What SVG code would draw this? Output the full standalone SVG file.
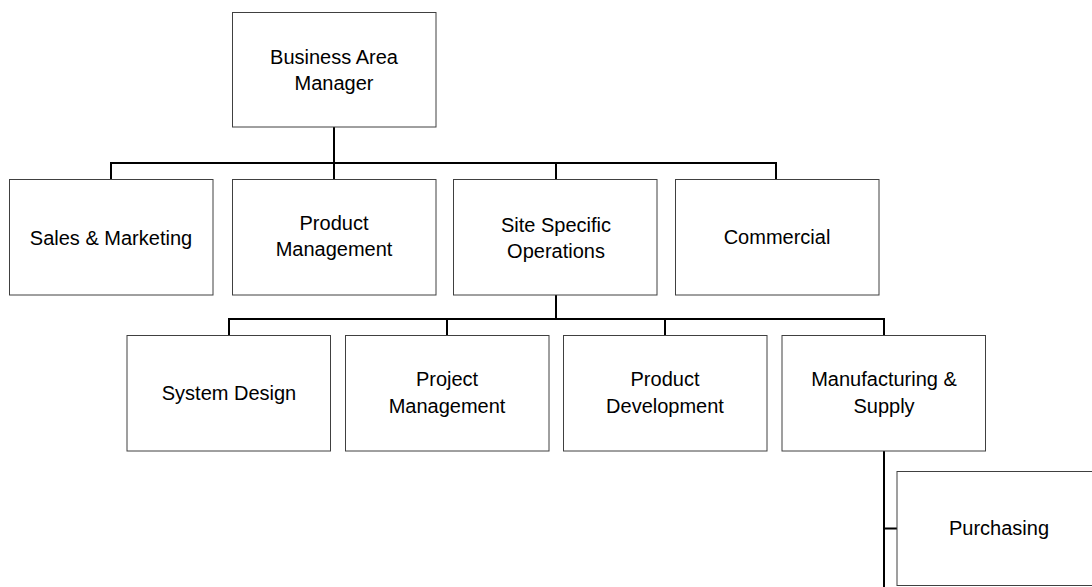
<svg xmlns="http://www.w3.org/2000/svg" width="1092" height="587" viewBox="0 0 1092 587">
<style>
.box{fill:#fff;stroke:#404040;stroke-width:1}
.lbl{font-family:"Liberation Sans",Arial,sans-serif;font-size:20px;fill:#000;text-anchor:middle}
.con{fill:none;stroke:#000;stroke-width:2}
</style>
<rect width="1092" height="587" fill="#fff"/>
<g id="connectors">
<path class="con" d="M334 127V179M111 179V163H776V179M556 163V179"/>
<path class="con" d="M556 295V319M229 335.5V319H884V335.5M447 319V335.5M665 319V335.5"/>
<path class="con" d="M884 451V587M884 528.5H897"/>
</g>
<g id="n-bam"><rect class="box" x="232.5" y="12.5" width="203.5" height="114.5"/><text class="lbl" x="334" y="64">Business Area</text><text class="lbl" x="334" y="89.5">Manager</text></g>
<g id="n-sales"><rect class="box" x="9.5" y="179.5" width="203.5" height="115.5"/><text class="lbl" x="111" y="244.5">Sales &amp; Marketing</text></g>
<g id="n-pm"><rect class="box" x="232.5" y="179.5" width="203.5" height="115.5"/><text class="lbl" x="334" y="230">Product</text><text class="lbl" x="334" y="256">Management</text></g>
<g id="n-sso"><rect class="box" x="453.5" y="179.5" width="203.5" height="115.5"/><text class="lbl" x="556" y="232">Site Specific</text><text class="lbl" x="556" y="257.5">Operations</text></g>
<g id="n-com"><rect class="box" x="675.5" y="179.5" width="203.5" height="115.5"/><text class="lbl" x="777" y="243.5">Commercial</text></g>
<g id="n-sd"><rect class="box" x="127" y="335.5" width="203.5" height="115.5"/><text class="lbl" x="229" y="399.5">System Design</text></g>
<g id="n-prj"><rect class="box" x="345.5" y="335.5" width="203.5" height="115.5"/><text class="lbl" x="447" y="386">Project</text><text class="lbl" x="447" y="412.5">Management</text></g>
<g id="n-pd"><rect class="box" x="563.5" y="335.5" width="203.5" height="115.5"/><text class="lbl" x="665" y="386">Product</text><text class="lbl" x="665" y="412.5">Development</text></g>
<g id="n-ms"><rect class="box" x="782" y="335.5" width="203.5" height="115.5"/><text class="lbl" x="884" y="386">Manufacturing &amp;</text><text class="lbl" x="884" y="412.5">Supply</text></g>
<g id="n-pur"><rect class="box" x="897" y="471.5" width="203.5" height="114"/><text class="lbl" x="999" y="535">Purchasing</text></g>
</svg>
